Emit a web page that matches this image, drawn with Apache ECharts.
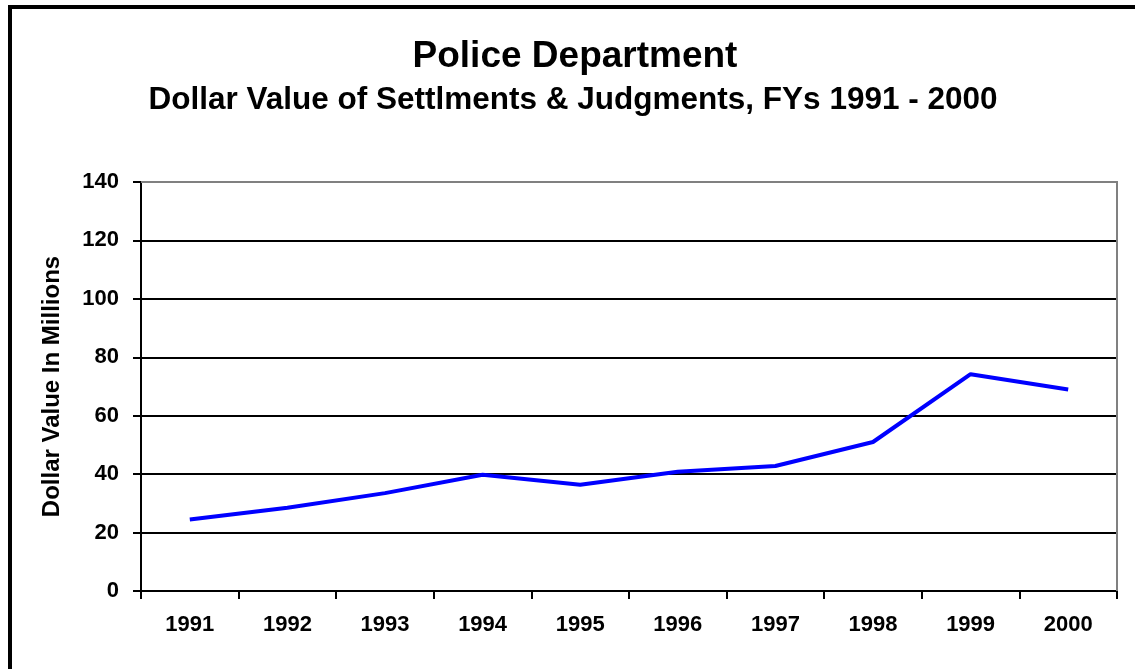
<!DOCTYPE html>
<html>
<head>
<meta charset="utf-8">
<script src="https://cdn.jsdelivr.net/npm/echarts@6/dist/echarts.min.js"></script>
<style>
  html, body { margin: 0; padding: 0; background: #fff; }
  #main { width: 1135px; height: 669px; }
</style>
</head>
<body>
<div id="main"></div>
<script>
var years = ["1991", "1992", "1993", "1994", "1995", "1996", "1997", "1998", "1999", "2000"];
var values = [24.5, 28.5, 33.5, 39.8, 36.4, 40.8, 42.8, 51, 74.2, 69];

var font = "Liberation Sans, Arial, sans-serif";
var myChart = echarts.init(document.getElementById("main"), null, { renderer: "canvas" });

var option = {
  animation: false,
  backgroundColor: "#fff",
  title: [
    {
      text: "Police Department",
      left: 570,
      textAlign: "center",
      top: 33,
      textStyle: { fontFamily: font, fontSize: 37, fontWeight: "bold", color: "#000" }
    },
    {
      text: "Dollar Value of Settlments & Judgments, FYs 1991 - 2000",
      left: 568,
      textAlign: "center",
      top: 79,
      textStyle: { fontFamily: font, fontSize: 31.5, fontWeight: "bold", color: "#000" }
    }
  ],
  graphic: [
    {
      type: "rect",
      shape: { x: 10, y: 7, width: 1140, height: 680 },
      style: { fill: null, stroke: "#000", lineWidth: 4 }
    },
    {
      // gray frame of the plot area (top and right)
      type: "polyline",
      shape: { points: [[141, 182], [1117, 182], [1117, 591]] },
      style: { stroke: "#808080", lineWidth: 2, fill: null },
      z: 1
    }
  ],
  grid: { left: 141, right: 18, top: 182, bottom: 78 },
  xAxis: {
    type: "category",
    data: years,
    boundaryGap: true,
    axisLine: { lineStyle: { color: "#000", width: 2 } },
    axisTick: { show: true, length: 8, inside: false, lineStyle: { color: "#000", width: 2 } },
    axisLabel: { fontFamily: font, fontSize: 22, fontWeight: "bold", color: "#000", margin: 23 },
    splitLine: { show: false }
  },
  yAxis: {
    type: "value",
    min: 0,
    max: 140,
    interval: 20,
    name: "Dollar Value In Millions",
    nameLocation: "middle",
    nameGap: 77,
    nameRotate: 90,
    nameTextStyle: { fontFamily: font, fontSize: 24, fontWeight: "bold", color: "#000" },
    axisLine: { show: true, lineStyle: { color: "#000", width: 2 } },
    axisTick: { show: true, length: 8, lineStyle: { color: "#000", width: 2 } },
    axisLabel: { fontFamily: font, fontSize: 22, fontWeight: "bold", color: "#000", margin: 22 },
    splitLine: { show: true, lineStyle: { color: "#000", width: 2 } }
  },
  series: [
    {
      type: "line",
      data: values,
      symbol: "none",
      lineStyle: { color: "#0000ff", width: 4 },
      z: 3
    }
  ]
};

myChart.setOption(option);
</script>
</body>
</html>
